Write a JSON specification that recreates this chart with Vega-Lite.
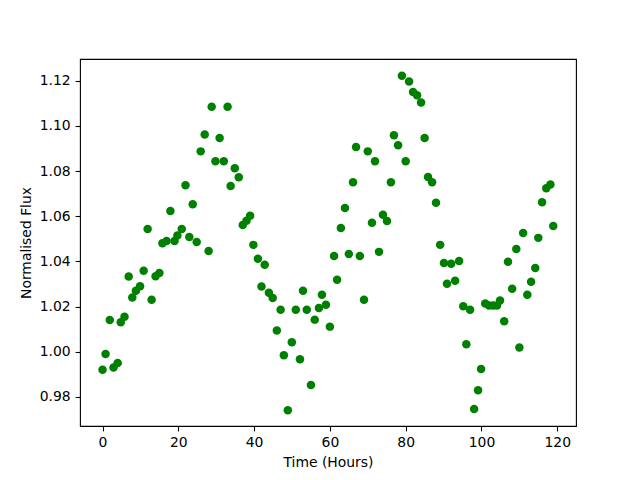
{
  "$schema": "https://vega.github.io/schema/vega-lite/v6.json",
  "width": 496,
  "height": 367,
  "autosize": {"type": "none"},
  "padding": {"left": 80, "top": 59, "right": 64, "bottom": 54},
  "background": "white",
  "config": {
    "view": {"stroke": "black", "strokeWidth": 1.1},
    "font": "DejaVu Sans",
    "axis": {
      "domain": false,
      "grid": false,
      "tickColor": "black",
      "tickSize": 4.9,
      "tickWidth": 1.1,
      "labelColor": "black",
      "labelFont": "DejaVu Sans",
      "labelFontSize": 13.9,
      "labelPadding": 4.9,
      "titleFont": "DejaVu Sans",
      "titleFontSize": 13.9,
      "titleFontWeight": "normal",
      "titleColor": "black",
      "titlePadding": 5.6
    }
  },
  "data": {
    "values": [
      {"t": 0, "f": 0.992}, {"t": 0.8, "f": 0.999}, {"t": 1.9, "f": 1.014}, {"t": 2.9, "f": 0.993},
      {"t": 4.0, "f": 0.995}, {"t": 4.8, "f": 1.013}, {"t": 5.8, "f": 1.0155}, {"t": 6.9, "f": 1.0333},
      {"t": 7.85, "f": 1.024}, {"t": 8.8, "f": 1.027}, {"t": 9.9, "f": 1.029}, {"t": 10.85, "f": 1.0358},
      {"t": 11.9, "f": 1.0543}, {"t": 12.95, "f": 1.023}, {"t": 14.0, "f": 1.0334}, {"t": 15.0, "f": 1.0349},
      {"t": 15.8, "f": 1.048}, {"t": 16.9, "f": 1.049}, {"t": 17.9, "f": 1.0623}, {"t": 19.0, "f": 1.049},
      {"t": 19.75, "f": 1.0514}, {"t": 20.9, "f": 1.0543}, {"t": 21.9, "f": 1.0737}, {"t": 22.9, "f": 1.0508},
      {"t": 23.8, "f": 1.0653}, {"t": 24.85, "f": 1.0486}, {"t": 25.9, "f": 1.0887}, {"t": 26.96, "f": 1.0962},
      {"t": 28.0, "f": 1.0446}, {"t": 28.8, "f": 1.1085}, {"t": 29.8, "f": 1.0843}, {"t": 30.9, "f": 1.0946},
      {"t": 32.0, "f": 1.0843}, {"t": 33.0, "f": 1.1085}, {"t": 33.8, "f": 1.0734}, {"t": 34.9, "f": 1.0812},
      {"t": 35.95, "f": 1.0772}, {"t": 37.0, "f": 1.0561}, {"t": 38.0, "f": 1.058}, {"t": 38.95, "f": 1.0602},
      {"t": 39.8, "f": 1.0473}, {"t": 41.0, "f": 1.0412}, {"t": 41.95, "f": 1.0289}, {"t": 42.8, "f": 1.0385},
      {"t": 43.9, "f": 1.0261}, {"t": 44.9, "f": 1.0238}, {"t": 46.0, "f": 1.0094}, {"t": 47.0, "f": 1.0186},
      {"t": 47.85, "f": 0.9984}, {"t": 48.9, "f": 0.9741}, {"t": 49.95, "f": 1.0042}, {"t": 51.0, "f": 1.0186},
      {"t": 52.1, "f": 0.9967}, {"t": 52.9, "f": 1.027}, {"t": 53.9, "f": 1.0186}, {"t": 55.0, "f": 0.9853},
      {"t": 56.0, "f": 1.0142}, {"t": 57.1, "f": 1.0193}, {"t": 57.9, "f": 1.0252}, {"t": 58.95, "f": 1.0208},
      {"t": 60.0, "f": 1.0111}, {"t": 61.1, "f": 1.0424}, {"t": 61.9, "f": 1.0319}, {"t": 62.9, "f": 1.0548},
      {"t": 63.97, "f": 1.0636}, {"t": 65.0, "f": 1.0433}, {"t": 66.1, "f": 1.075}, {"t": 66.9, "f": 1.0906},
      {"t": 67.9, "f": 1.0424}, {"t": 69.0, "f": 1.023}, {"t": 70.0, "f": 1.0887}, {"t": 71.1, "f": 1.0571},
      {"t": 71.9, "f": 1.0843}, {"t": 72.96, "f": 1.0442}, {"t": 74.0, "f": 1.0606}, {"t": 75.07, "f": 1.0579},
      {"t": 76.1, "f": 1.075}, {"t": 76.9, "f": 1.0958}, {"t": 78.0, "f": 1.0914}, {"t": 79.0, "f": 1.1222},
      {"t": 80.0, "f": 1.0843}, {"t": 80.9, "f": 1.1196}, {"t": 81.95, "f": 1.115}, {"t": 83.0, "f": 1.1135},
      {"t": 84.06, "f": 1.1103}, {"t": 85.0, "f": 1.0946}, {"t": 85.9, "f": 1.0774}, {"t": 86.97, "f": 1.075},
      {"t": 88.0, "f": 1.0659}, {"t": 89.1, "f": 1.0473}, {"t": 90.1, "f": 1.0393}, {"t": 90.9, "f": 1.0301},
      {"t": 92.0, "f": 1.0389}, {"t": 93.05, "f": 1.0314}, {"t": 94.1, "f": 1.0402}, {"t": 95.2, "f": 1.0201},
      {"t": 96.0, "f": 1.0033}, {"t": 97.0, "f": 1.0186}, {"t": 98.07, "f": 0.9746}, {"t": 99.1, "f": 0.9829},
      {"t": 99.9, "f": 0.9923}, {"t": 101.0, "f": 1.0213}, {"t": 102.0, "f": 1.0205}, {"t": 103.1, "f": 1.0205},
      {"t": 104.1, "f": 1.0205}, {"t": 104.9, "f": 1.0227}, {"t": 106.0, "f": 1.0135}, {"t": 107.0, "f": 1.0398},
      {"t": 108.1, "f": 1.0279}, {"t": 109.2, "f": 1.0455}, {"t": 110.0, "f": 1.0019}, {"t": 111.0, "f": 1.0526},
      {"t": 112.1, "f": 1.0252}, {"t": 113.1, "f": 1.031}, {"t": 114.2, "f": 1.0371}, {"t": 115.0, "f": 1.0504},
      {"t": 116.0, "f": 1.0662}, {"t": 117.1, "f": 1.0724}, {"t": 118.2, "f": 1.074}, {"t": 118.95, "f": 1.0557}
    ]
  },
  "mark": {"type": "point", "shape": "circle", "filled": true, "size": 72, "color": "#008000", "opacity": 1},
  "encoding": {
    "x": {
      "field": "t",
      "type": "quantitative",
      "title": "Time (Hours)",
      "scale": {"domain": [-5.95, 124.95], "nice": false, "zero": false},
      "axis": {"values": [0, 20, 40, 60, 80, 100, 120], "format": "d"}
    },
    "y": {
      "field": "f",
      "type": "quantitative",
      "title": "Normalised Flux",
      "scale": {"domain": [0.9671, 1.1296], "nice": false, "zero": false},
      "axis": {"values": [0.98, 1.0, 1.02, 1.04, 1.06, 1.08, 1.1, 1.12], "format": ".2f"}
    }
  }
}
